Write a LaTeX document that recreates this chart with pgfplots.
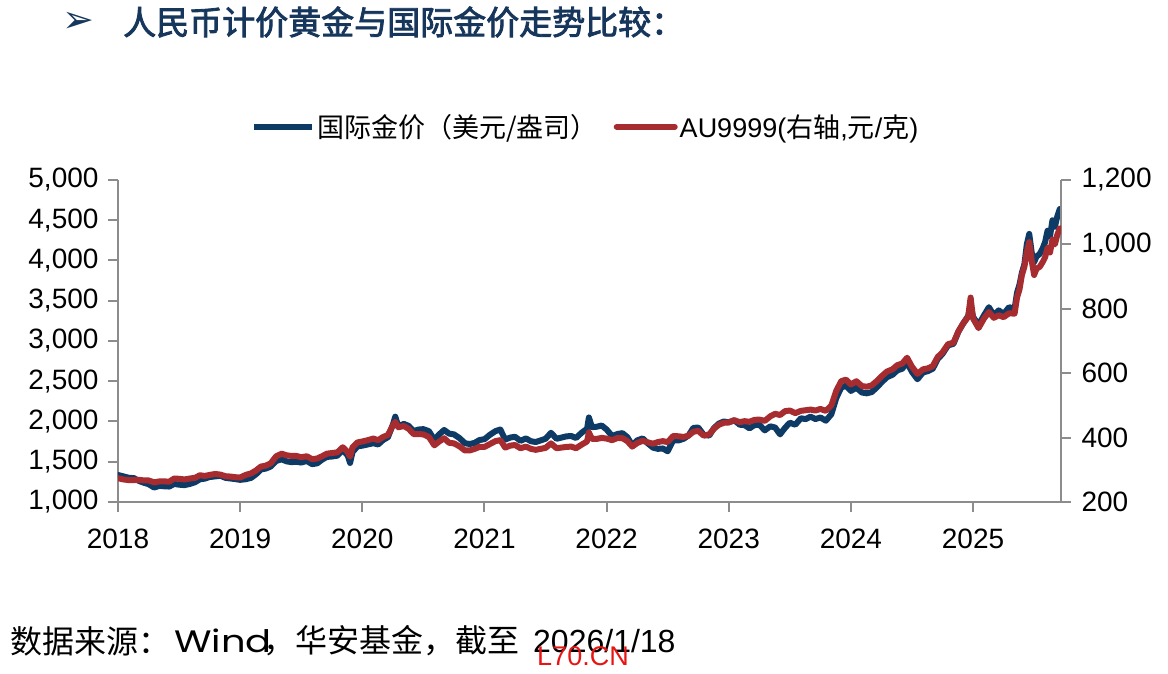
\documentclass[border=0pt]{standalone}
\usepackage{fontspec}
\setmainfont{Liberation Sans}
\newfontfamily\cjk{Noto Sans CJK SC}
\newfontfamily\cjkbold[FakeBold=2.5]{Noto Sans CJK SC}
\newfontfamily\symfont{DejaVu Sans}
\newfontfamily\geofont{Poppins}
\usepackage{graphicx}
\usepackage{pgfplots}
\usepackage{pgfplotstable}
\pgfplotsset{compat=1.18}

\definecolor{usdblue}{RGB}{14,58,102}
\definecolor{cnyred}{RGB}{166,44,48}
\definecolor{axisgray}{RGB}{140,140,140}
\definecolor{titleblue}{RGB}{22,54,92}
\definecolor{markred}{RGB}{232,20,20}

% t: time in years; usd: international gold (USD/oz); cny: AU9999 (CNY/g)
\pgfplotstableread{
t usd cny
2018.33 1335 274
2018.375 1318 270
2018.42 1300 268
2018.46 1297 268
2018.50 1262 269
2018.54 1240 267
2018.58 1222 267
2018.625 1180 261
2018.67 1200 264
2018.71 1195 264
2018.75 1192 263
2018.79 1225 273
2018.83 1215 272
2018.875 1210 270
2018.92 1225 273
2018.96 1245 275
2019.00 1282 283
2019.04 1290 281
2019.08 1310 284
2019.125 1318 287
2019.17 1325 285
2019.21 1300 280
2019.25 1292 279
2019.29 1285 277
2019.33 1275 276
2019.375 1283 284
2019.42 1300 289
2019.46 1345 298
2019.50 1405 310
2019.54 1415 313
2019.58 1440 320
2019.625 1510 342
2019.67 1530 350
2019.71 1505 345
2019.75 1495 343
2019.79 1500 343
2019.83 1490 339
2019.875 1510 342
2019.92 1470 333
2019.96 1480 335
2020.00 1525 342
2020.04 1560 350
2020.08 1565 352
2020.125 1575 354
2020.17 1645 370
2020.21 1580 355
2020.23 1485 341
2020.25 1620 370
2020.29 1690 385
2020.33 1700 388
2020.375 1715 392
2020.42 1730 397
2020.46 1715 392
2020.50 1770 402
2020.54 1805 408
2020.58 1960 438
2020.60 2060 449
2020.625 1940 432
2020.67 1970 436
2020.71 1945 427
2020.75 1880 411
2020.79 1900 411
2020.83 1905 410
2020.875 1880 402
2020.92 1775 376
2020.96 1840 388
2021.00 1895 398
2021.04 1850 384
2021.08 1840 382
2021.125 1795 373
2021.17 1730 360
2021.21 1720 360
2021.25 1735 365
2021.29 1770 371
2021.33 1780 371
2021.375 1835 380
2021.42 1880 389
2021.46 1900 392
2021.50 1775 369
2021.54 1800 375
2021.58 1810 377
2021.625 1760 367
2021.67 1790 372
2021.71 1755 365
2021.75 1745 362
2021.79 1765 365
2021.83 1785 368
2021.875 1860 382
2021.92 1785 367
2021.96 1800 369
2022.00 1815 371
2022.04 1820 372
2022.08 1795 367
2022.125 1860 378
2022.17 1910 388
2022.185 2050 416
2022.21 1930 396
2022.25 1935 396
2022.29 1950 399
2022.33 1900 397
2022.375 1820 392
2022.42 1845 399
2022.46 1855 398
2022.50 1805 389
2022.54 1705 372
2022.58 1765 383
2022.625 1790 390
2022.67 1725 385
2022.71 1675 381
2022.75 1660 386
2022.79 1665 389
2022.83 1630 386
2022.875 1765 405
2022.92 1765 404
2022.96 1785 402
2023.00 1825 406
2023.04 1920 418
2023.08 1925 421
2023.125 1835 406
2023.17 1825 410
2023.21 1920 428
2023.25 1975 440
2023.29 2000 446
2023.33 1990 447
2023.375 2015 454
2023.42 1960 448
2023.46 1955 451
2023.50 1915 449
2023.54 1955 455
2023.58 1960 456
2023.625 1890 452
2023.67 1940 466
2023.71 1925 474
2023.75 1840 470
2023.79 1920 482
2023.83 1985 484
2023.875 1960 476
2023.92 2040 483
2023.96 2030 485
2024.00 2060 487
2024.04 2030 484
2024.08 2050 489
2024.125 2010 483
2024.17 2090 500
2024.21 2290 545
2024.25 2420 575
2024.29 2445 580
2024.33 2380 565
2024.375 2420 575
2024.42 2360 560
2024.46 2350 558
2024.50 2365 562
2024.54 2420 575
2024.58 2485 590
2024.625 2550 605
2024.67 2580 612
2024.71 2635 625
2024.75 2655 630
2024.79 2735 648
2024.83 2615 620
2024.875 2525 598
2024.92 2610 612
2024.96 2625 615
2025.00 2655 622
2025.04 2775 650
2025.08 2840 665
2025.125 2945 690
2025.17 2965 695
2025.21 3115 730
2025.25 3220 755
2025.29 3310 775
2025.31 3450 835
2025.33 3300 770
2025.375 3200 740
2025.42 3320 770
2025.46 3420 790
2025.50 3320 772
2025.54 3380 780
2025.58 3335 774
2025.625 3420 786
2025.67 3400 785
2025.69 3600 835
2025.71 3700 860
2025.73 3850 905
2025.75 3950 930
2025.77 4200 975
2025.79 4330 1007
2025.81 4100 950
2025.83 3980 905
2025.85 4050 925
2025.875 4080 930
2025.90 4150 945
2025.92 4230 960
2025.94 4370 990
2025.96 4300 975
2025.98 4500 1015
2026.00 4420 1000
2026.02 4550 1030
2026.04 4640 1050
}\goldtable

\pgfplotsset{
  goldframe/.style={
    scale only axis, width=943pt, height=322pt,
    at={(118pt,172pt)}, anchor=south west,
    xmin=2018.33, xmax=2026.05,
    tick align=outside, major tick length=10pt,
    tick style={draw=axisgray, line width=2pt},
    axis line style={draw=axisgray, line width=2pt, -},
    tick label style={font=\fontsize{28}{30}\selectfont},
    /pgf/number format/assume math mode=true,
    /pgf/number format/1000 sep={,},
  },
}

\begin{document}
\begin{tikzpicture}[x=1pt,y=1pt]
\path[use as bounding box] (0,0) rectangle (1168,674);

% heading
\node[anchor=west, inner sep=0, text=titleblue, font=\symfont\fontsize{38}{40}\selectfont] at (62,652) {➢};
\node[anchor=west, inner sep=0, text=titleblue, font=\cjkbold\fontsize{33}{36}\selectfont] at (123,652) {人民币计价黄金与国际金价走势比较：};

% international gold, left axis
\begin{axis}[goldframe,
  ymin=1000, ymax=5000,
  axis x line*=bottom, axis y line*=left,
  xtick={2018.33,2019.33,2020.33,2021.33,2022.33,2023.33,2024.33,2025.33},
  xticklabels={2018,2019,2020,2021,2022,2023,2024,2025},
  xticklabel style={yshift=-13pt},
  ytick={1000,1500,...,5000},
  yticklabel style={xshift=-6pt},
]
\addplot[usdblue, line width=6pt, line join=round, line cap=round] table[x=t, y=usd]{\goldtable};
\end{axis}

% AU9999, right axis
\begin{axis}[goldframe,
  ymin=200, ymax=1200,
  axis x line=none, axis y line*=right,
  ytick={200,400,...,1200},
  yticklabel style={xshift=7pt},
  legend style={at={(0.496,1.165)}, anchor=center, draw=none, fill=none,
    legend columns=2, font=\fontsize{27}{30}\selectfont,
    /tikz/every even column/.append style={column sep=14pt}},
  legend image code/.code={\draw[#1, line width=6pt] (0pt,0pt) -- (58pt,0pt);},
]
\addlegendimage{usdblue}
\addlegendentry{\cjk 国际金价（美元/盎司）}
\addplot[cnyred, line width=6pt, line join=round, line cap=round] table[x=t, y=cny]{\goldtable};
\addlegendentry{AU9999({\cjk 右轴},{\cjk 元}/{\cjk 克})}
\end{axis}

% source line
\node[anchor=west, inner sep=0, font=\cjk\fontsize{32}{34}\selectfont] at (10,33) {数据来源：};
\node[anchor=west, inner sep=0, font=\geofont\fontsize{31}{34}\selectfont] at (174,33) {\scalebox{1.24}[1]{Wind}};
\node[anchor=west, inner sep=0, font=\cjk\fontsize{32}{34}\selectfont] at (263,33) {，华安基金，截至};
\node[anchor=west, inner sep=0, font=\fontsize{32}{34}\selectfont] at (533,33) {2026/1/18};
\node[inner sep=0, text=markred, font=\fontsize{27}{29}\selectfont] at (583,18) {L70.CN};
\end{tikzpicture}
\end{document}
